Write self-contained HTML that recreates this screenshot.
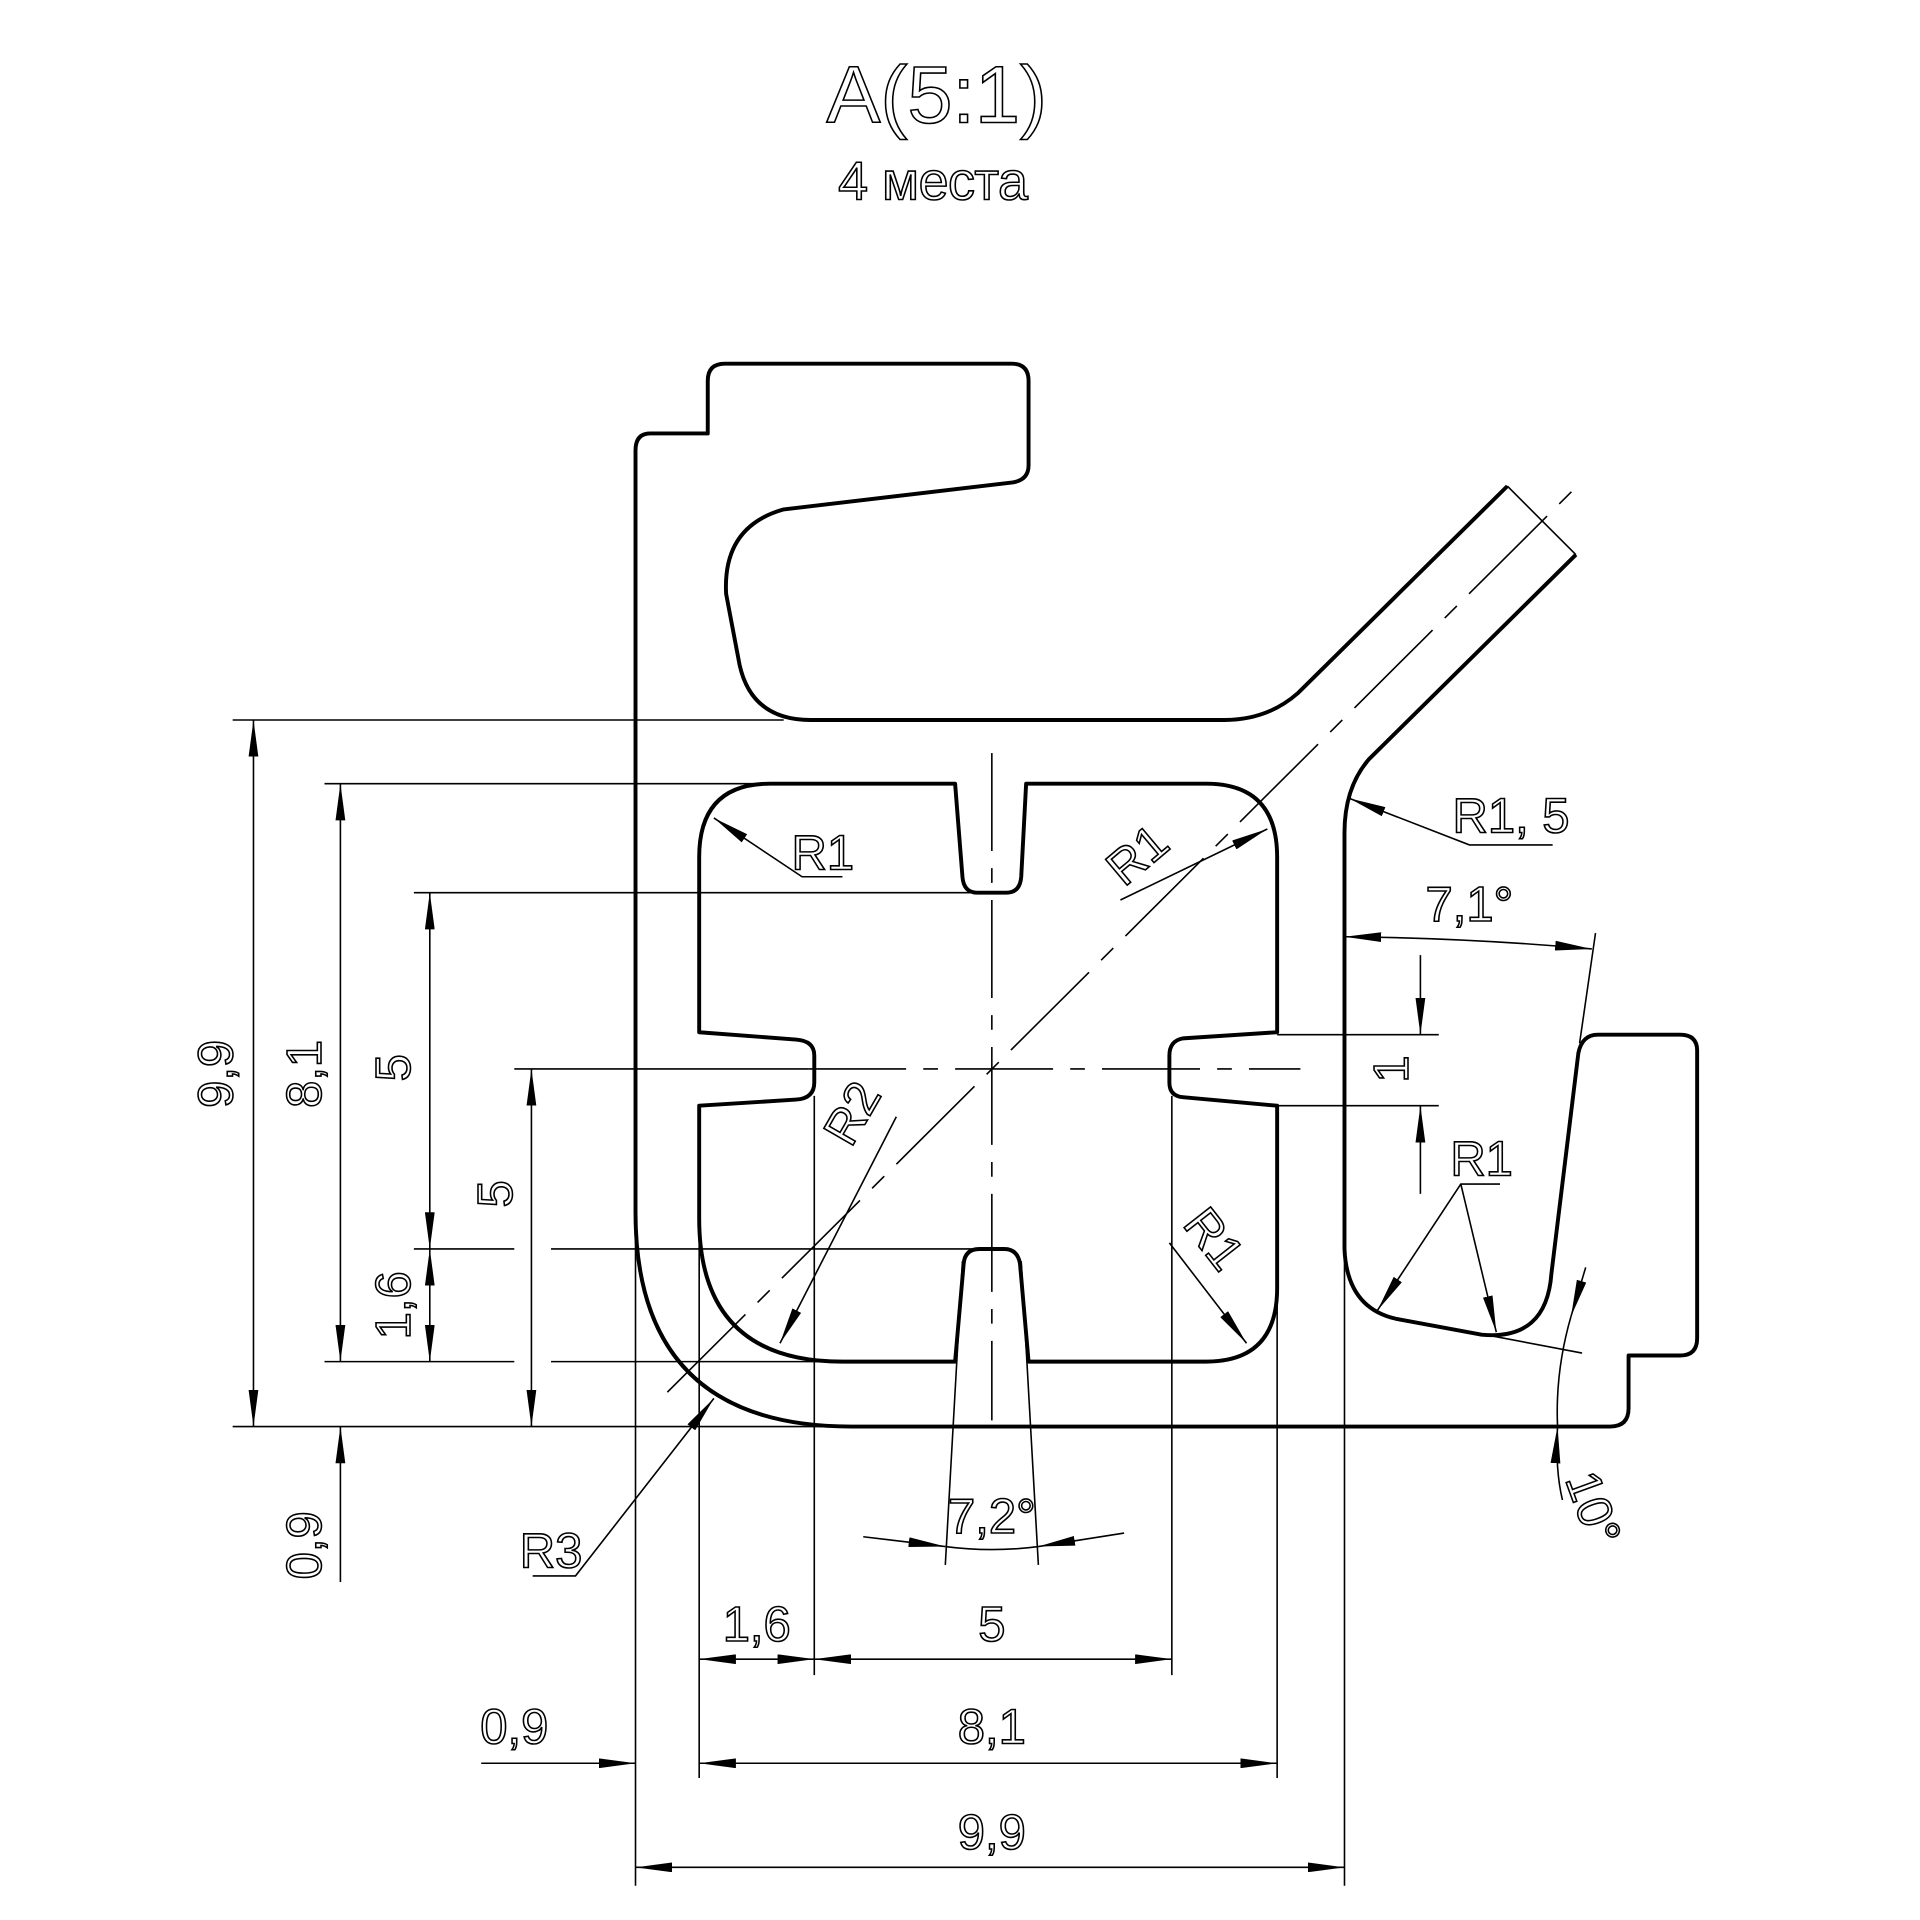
<!DOCTYPE html>
<html><head><meta charset="utf-8"><style>
html,body{margin:0;padding:0;background:#fff}
svg{display:block}
text{font-family:"Liberation Sans Narrow","Liberation Sans",sans-serif;fill:none;stroke:#000;stroke-width:1.3}
</style></head><body>
<svg width="1920" height="1920" viewBox="0 0 1568 1568" xmlns="http://www.w3.org/2000/svg">
<defs>
<marker id="a" viewBox="0 0 30 8" refX="30" refY="4" markerWidth="30" markerHeight="8" markerUnits="userSpaceOnUse" orient="auto"><path d="M0,0L30,4L0,8z" fill="#000"/></marker>
<marker id="b" viewBox="0 0 30 8" refX="0" refY="4" markerWidth="30" markerHeight="8" markerUnits="userSpaceOnUse" orient="auto"><path d="M30,0L0,4L30,8z" fill="#000"/></marker>
</defs>
<rect width="1568" height="1568" fill="#fff"/>
<text x="765" y="100" font-size="66" text-anchor="middle" textLength="180">A(5:1)</text>
<text x="762" y="163" font-size="44" text-anchor="middle" textLength="155">4 места</text>

<g fill="none" stroke="#000" stroke-width="3.2" stroke-linejoin="round">
<path d="M1287,453 L1118,620 Q1098,643 1098,680 L1098,1020 Q1100,1068 1140,1077 L1210,1090 Q1263,1095 1267,1040 L1289,860 Q1292,845 1305,845 L1372,845 Q1386,845 1386,858 L1386,1093 Q1386,1107 1372,1107 L1330,1107 L1330,1150 Q1330,1165 1315,1165 L695,1165 Q519,1165 519,990 L519,368 Q519,354 531,354 L578,354 L578,311 Q578,297 592,297 L826,297 Q840,297 840,311 L840,380 Q840,392 827,394 L640,416 Q590,430 593,485 L604,543 Q614,588 662,588 L1000,588 Q1035,588 1060,566 L1231,397"/>
<path d="M571,700 Q571,640 629,640 L780,640 L786,716 Q787,729 798,729 L822,729 Q833,729 834,716 L838,640 L985,640 Q1043,640 1043,700 L1043,843 L966,848 Q955,850 955,862 L955,884 Q955,895 966,896 L1043,903 L1043,1052 Q1043,1112 985,1112 L840,1112 L833,1032 Q831,1020 820,1020 L800,1020 Q788,1020 787,1032 L780,1112 L688,1112 Q571,1112 571,995 L571,903 L650,898 Q665,897 665,884 L665,862 Q665,850 650,849 L571,843 Z"/>
</g>

<g fill="none" stroke="#000" stroke-width="1.3">
<path d="M810,615 V1160" stroke-dasharray="80,14,12,14"/>
<path d="M660,873 H1062" stroke-dasharray="80,14,12,14"/>
<path d="M545,1137 L1285,400" stroke-dasharray="90,14,14,14"/>
<path d="M1231,397 L1287,453"/>
<path d="M190,588 H640 M265,640 H620 M338,729 H800 M420,873 H660 M338,1020 H420 M450,1020 H800 M265,1112 H420 M450,1112 H690 M190,1165 H700"/>
<path d="M519,990 V1540 M571,995 V1452 M665,895 V1368 M957,895 V1368 M1043,1052 V1452 M1098,1020 V1540"/>
<path d="M1043,845 H1175 M1043,903 H1175"/>
<path d="M207,588 V1165" marker-start="url(#b)" marker-end="url(#a)"/>
<path d="M278,640 V1112" marker-start="url(#b)" marker-end="url(#a)"/>
<path d="M278,1292 V1165" marker-end="url(#a)"/>
<path d="M351,729 V1020" marker-start="url(#b)" marker-end="url(#a)"/>
<path d="M351,1020 V1112" marker-start="url(#b)" marker-end="url(#a)"/>
<path d="M434,873 V1165" marker-start="url(#b)" marker-end="url(#a)"/>
<path d="M1160,780 V845" marker-end="url(#a)"/>
<path d="M1160,975 V903" marker-end="url(#a)"/>
<path d="M571,1355 H665" marker-start="url(#b)" marker-end="url(#a)"/>
<path d="M665,1355 H957" marker-start="url(#b)" marker-end="url(#a)"/>
<path d="M393,1440 H519" marker-end="url(#a)"/>
<path d="M571,1440 H1043" marker-start="url(#b)" marker-end="url(#a)"/>
<path d="M519,1525 H1098" marker-start="url(#b)" marker-end="url(#a)"/>
<path d="M786,1030 L772,1278 M834,1030 L848,1278"/>
<path d="M705,1255 L772,1263" marker-end="url(#a)"/>
<path d="M918,1252 L848,1263" marker-end="url(#a)"/>
<path d="M772,1263 Q810,1268 848,1263"/>
<path d="M1303,762 L1290,852"/>
<path d="M1098,765 Q1200,766 1300,775" marker-start="url(#b)" marker-end="url(#a)"/>
<path d="M1213,1090 L1292,1105"/>
<path d="M1295,1035 L1283,1075" marker-end="url(#a)"/>
<path d="M1283,1075 Q1270,1120 1272,1165"/>
<path d="M1276,1225 Q1270,1200 1272,1165" marker-end="url(#a)"/>
<path d="M688,716 H655 L583,668" marker-end="url(#a)"/>
<path d="M915,735 L1035,677" marker-end="url(#a)"/>
<path d="M732,912 L637,1097" marker-end="url(#a)"/>
<path d="M955,1015 L1018,1097" marker-end="url(#a)"/>
<path d="M435,1287 H470 L583,1142" marker-end="url(#a)"/>
<path d="M1268,690 H1200 L1102,652" marker-end="url(#a)"/>
<path d="M1225,967 H1193 L1125,1070" marker-end="url(#a)"/>
<path d="M1193,967 L1222,1088" marker-end="url(#a)"/>
</g>

<g font-size="40">
<text transform="translate(190,877) rotate(-90)" text-anchor="middle">9,9</text>
<text transform="translate(262,877) rotate(-90)" text-anchor="middle">8,1</text>
<text transform="translate(262,1262) rotate(-90)" text-anchor="middle">0,9</text>
<text transform="translate(335,872) rotate(-90)" text-anchor="middle">5</text>
<text transform="translate(335,1066) rotate(-90)" text-anchor="middle">1,6</text>
<text transform="translate(418,975) rotate(-90)" text-anchor="middle">5</text>
<text transform="translate(1150,873) rotate(-90)" text-anchor="middle">1</text>
<text x="618" y="1340" text-anchor="middle">1,6</text>
<text x="810" y="1340" text-anchor="middle">5</text>
<text x="420" y="1424" text-anchor="middle">0,9</text>
<text x="810" y="1424" text-anchor="middle">8,1</text>
<text x="810" y="1510" text-anchor="middle">9,9</text>
<text x="810" y="1252" text-anchor="middle">7,2°</text>
<text x="1200" y="752" text-anchor="middle">7,1°</text>
<text transform="translate(1278,1208) rotate(70)">10°</text>
<text x="672" y="710" text-anchor="middle">R1</text>
<text transform="translate(918,725) rotate(-40)">R1</text>
<text transform="translate(695,938) rotate(-60)">R2</text>
<text transform="translate(965,1000) rotate(52)">R1</text>
<text x="450" y="1280" text-anchor="middle">R3</text>
<text x="1234" y="680" text-anchor="middle">R1, 5</text>
<text x="1210" y="960" text-anchor="middle">R1</text>
</g>
</svg>
</body></html>
